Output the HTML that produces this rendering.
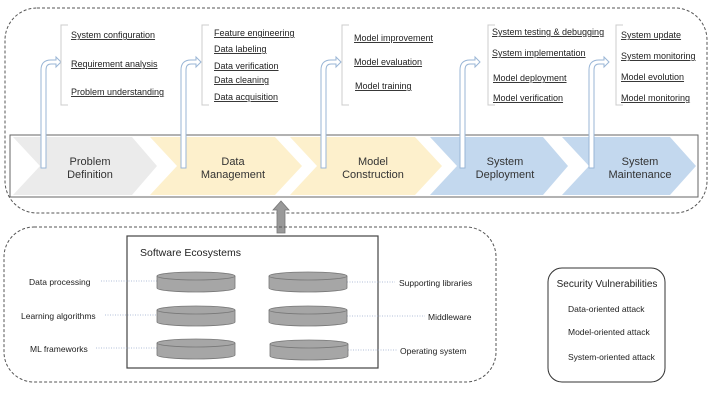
<!DOCTYPE html>
<html><head><meta charset="utf-8"><style>
html,body{margin:0;padding:0;background:#fff;}
svg{display:block;font-family:"Liberation Sans",sans-serif;}
.u{font-size:9px;fill:#222;text-decoration:underline;}
.c{font-size:11px;fill:#333;text-anchor:middle;}
.s{font-size:8.5px;fill:#222;}
</style></head><body>
<svg width="712" height="400" viewBox="0 0 712 400" xmlns="http://www.w3.org/2000/svg">
<rect x="5" y="8" width="702" height="205" rx="32" fill="none" stroke="#555" stroke-dasharray="3,2"/>
<rect x="10" y="135" width="688" height="62" fill="#fff" stroke="#666" stroke-width="1"/>
<polygon points="13,137 132,137 157,166 132,195 13,195 40,166" fill="#ebebeb"/>
<polygon points="150,137 275,137 302,166 275,195 150,195 177,166" fill="#fdf0cc"/>
<polygon points="290,137 415,137 442,166 415,195 290,195 317,166" fill="#fdf0cc"/>
<polygon points="430,137 543,137 568,166 543,195 430,195 457,166" fill="#c3d8ee"/>
<polygon points="562,137 670,137 696,166 670,195 562,195 589,166" fill="#c3d8ee"/>
<g class="c">
<text x="90" y="165">Problem</text><text x="90" y="178">Definition</text>
<text x="233" y="165">Data</text><text x="233" y="178">Management</text>
<text x="373" y="165">Model</text><text x="373" y="178">Construction</text>
<text x="505" y="165">System</text><text x="505" y="178">Deployment</text>
<text x="640" y="165">System</text><text x="640" y="178">Maintenance</text>
</g>
<g fill="#fff" stroke="#9ab6d6" stroke-width="1">
<path d="M41,168 V70 Q41,60 51,60 H56 V57 L61,62 L56,67 V64 H51 Q46,64 46,70 V168 Z"/>
<path d="M181,168 V70 Q181,60 191,60 H196 V57 L201,62 L196,67 V64 H191 Q186,64 186,70 V168 Z"/>
<path d="M321,168 V70 Q321,60 331,60 H336 V57 L341,62 L336,67 V64 H331 Q326,64 326,70 V168 Z"/>
<path d="M460,168 V70 Q460,60 470,60 H475 V57 L480,62 L475,67 V64 H470 Q465,64 465,70 V168 Z"/>
<path d="M589,168 V70 Q589,60 599,60 H604 V57 L609,62 L604,67 V64 H599 Q594,64 594,70 V168 Z"/>
</g>
<g fill="none" stroke="#ccc" stroke-width="1">
<path d="M68,25 H61 V105 H68"/><path d="M209,25 H202 V105 H209"/><path d="M349,25 H342 V105 H349"/>
<path d="M495,25 H488 V105 H495"/><path d="M623,25 H616 V105 H623"/>
</g>
<g class="u">
<text x="71" y="38">System configuration</text><text x="71" y="67">Requirement analysis</text><text x="71" y="95">Problem understanding</text>
<text x="214" y="36">Feature engineering</text><text x="214" y="52">Data labeling</text><text x="214" y="69">Data verification</text><text x="214" y="83">Data cleaning</text><text x="214" y="100">Data acquisition</text>
<text x="354" y="41">Model improvement</text><text x="354" y="65">Model evaluation</text><text x="355" y="89">Model training</text>
<text x="492" y="35">System testing &amp; debugging</text><text x="492" y="56">System implementation</text><text x="493" y="81">Model deployment</text><text x="493" y="101">Model verification</text>
<text x="621" y="38">System update</text><text x="621" y="59">System monitoring</text><text x="621" y="80">Model evolution</text><text x="621" y="101">Model monitoring</text>
</g>
<polygon points="277,233 277,210 273,210 281,201 289,210 285,210 285,233" fill="#999" stroke="#777" stroke-width="0.8"/>
<rect x="4" y="227" width="492" height="155" rx="30" fill="none" stroke="#555" stroke-dasharray="3,2"/>
<rect x="127" y="236" width="251" height="132" fill="#fff" stroke="#444" stroke-width="1.2"/>
<text x="140" y="256" style="font-size:10.5px;fill:#222">Software Ecosystems</text>
<g stroke="#99aacc" stroke-dasharray="1,1.5" stroke-width="0.8">
<line x1="101" y1="281" x2="157" y2="281"/><line x1="105" y1="315" x2="157" y2="315"/><line x1="96" y1="348" x2="157" y2="348"/>
<line x1="347" y1="282" x2="395" y2="282"/><line x1="347" y1="316" x2="425" y2="316"/><line x1="348" y1="350" x2="398" y2="350"/>
</g>
<g fill="#a6a6a6" stroke="#777" stroke-width="0.8">
<g id="cy"><path d="M157,276 V288 A39,4 0 0 0 235,288 V276"/><ellipse cx="196" cy="276" rx="39" ry="4"/></g>
<path d="M157,310 V322 A39,4 0 0 0 235,322 V310"/><ellipse cx="196" cy="310" rx="39" ry="4"/>
<path d="M157,343 V355 A39,4 0 0 0 235,355 V343"/><ellipse cx="196" cy="343" rx="39" ry="4"/>
<path d="M269,276 V288 A39,4 0 0 0 347,288 V276"/><ellipse cx="308" cy="276" rx="39" ry="4"/>
<path d="M269,310 V322 A39,4 0 0 0 347,322 V310"/><ellipse cx="308" cy="310" rx="39" ry="4"/>
<path d="M270,344 V356 A39,4 0 0 0 348,356 V344"/><ellipse cx="309" cy="344" rx="39" ry="4"/>
</g>
<g class="s">
<text x="29" y="285">Data processing</text><text x="21" y="319">Learning algorithms</text><text x="30" y="352">ML frameworks</text>
<text x="399" y="286">Supporting libraries</text><text x="428" y="320">Middleware</text><text x="400" y="354">Operating system</text>
</g>
<rect x="548" y="268" width="117" height="114" rx="14" fill="none" stroke="#333" stroke-width="1"/>
<text x="607" y="287" style="font-size:10px;fill:#222;text-anchor:middle">Security Vulnerabilities</text>
<g class="s"><text x="568" y="312">Data-oriented attack</text><text x="568" y="335">Model-oriented attack</text><text x="568" y="360">System-oriented attack</text></g>
</svg>
</body></html>
